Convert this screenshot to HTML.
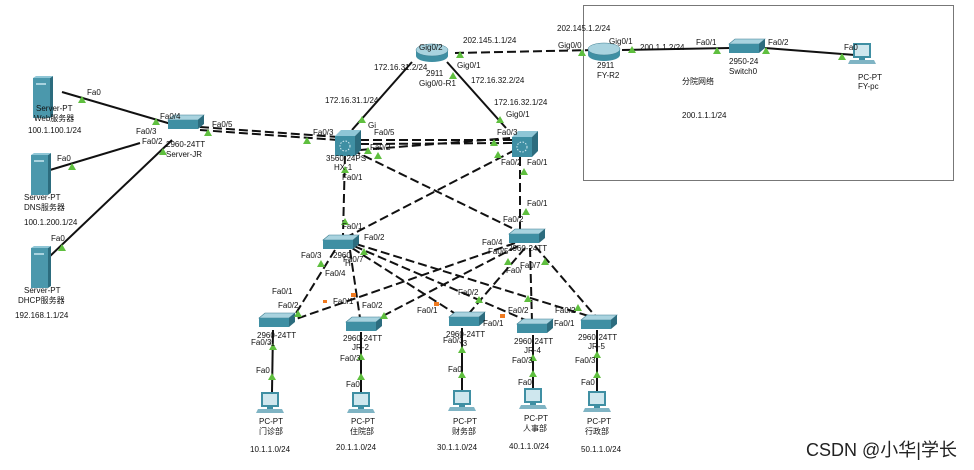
<!DOCTYPE html>
<html><head><meta charset="utf-8"><style>
html,body{margin:0;padding:0;background:#fff;width:974px;height:470px;overflow:hidden}
svg{display:block}
text{font-family:"Liberation Sans","Noto Sans CJK SC",sans-serif;font-size:8px;fill:#111}
</style></head><body>
<svg width="974" height="470" viewBox="0 0 974 470">
<defs>
<g id="sw"><polygon points="-16,-4 -10,-9 20,-9 14,-4" fill="#a9d3df" stroke="#3f7f91" stroke-width=".6"/><polygon points="-16,-4 14,-4 14,5 -16,5" fill="#3f8fa3"/><polygon points="14,-4 20,-9 20,0 14,5" fill="#2c6c7e"/></g>
<g id="ml"><polygon points="-12,-8 -6,-14 14,-14 8,-8" fill="#8fc6d6"/><rect x="-12" y="-8" width="20" height="20" fill="#3f8fa3"/><polygon points="8,-8 14,-14 14,6 8,12" fill="#2c6c7e"/><circle cx="-2" cy="2" r="5" fill="none" stroke="#d8eef4" stroke-width="1" stroke-dasharray="1.5 1.5"/></g>
<g id="rt"><ellipse cx="0" cy="4" rx="16" ry="6" fill="#3f8fa3"/><rect x="-16" y="-2" width="32" height="6" fill="#3f8fa3"/><ellipse cx="0" cy="-2" rx="16" ry="6" fill="#a9d3df" stroke="#3f7f91" stroke-width=".5"/></g>
<g id="pc"><rect x="-9" y="-12" width="18" height="15" fill="#3f8fa3"/><rect x="-7" y="-10" width="14" height="11" fill="#cfe7ee"/><polygon points="-12,5 12,5 14,9 -14,9" fill="#7fb4c4"/><rect x="-3" y="3" width="6" height="2" fill="#3f8fa3"/></g>
<g id="sv"><rect x="-9" y="-20" width="17" height="40" fill="#4b98ac"/><polygon points="8,-20 11,-22 11,18 8,20" fill="#2c6c7e"/><polygon points="-9,-20 -6,-22 11,-22 8,-20" fill="#8fc6d6"/><rect x="-6" y="-15" width="10" height="2" fill="#a9d3df"/></g>
<g id="tri"><polygon points="-4,3 4,3 0,-4" fill="#5fbf3f"/></g>
</defs>

<rect x="583.5" y="5.5" width="370" height="175" fill="none" stroke="#777" stroke-width="1"/>

<g stroke="#111" stroke-width="2" fill="none">
<line x1="62" y1="92" x2="178" y2="126"/>
<line x1="50" y1="170" x2="140" y2="143"/>
<line x1="48" y1="258" x2="172" y2="140"/>
<line x1="352" y1="130" x2="412" y2="62"/>
<line x1="447" y1="62" x2="506" y2="128"/>
<line x1="622" y1="50" x2="730" y2="48"/>
<line x1="765" y1="48" x2="855" y2="55"/>
<line x1="273" y1="330" x2="272" y2="392"/>
<line x1="361" y1="332" x2="361" y2="392"/>
<line x1="462" y1="328" x2="462" y2="392"/>
<line x1="533" y1="335" x2="533" y2="390"/>
<line x1="597" y1="330" x2="597" y2="392"/>
</g>
<g stroke="#111" stroke-width="2" fill="none" stroke-dasharray="9 4">
<line x1="200" y1="127" x2="338" y2="137"/>
<line x1="200" y1="130" x2="338" y2="140"/>
<line x1="455" y1="53" x2="595" y2="50"/>
<line x1="360" y1="140" x2="515" y2="140"/>
<line x1="360" y1="144" x2="515" y2="143"/>
<line x1="360" y1="150" x2="510" y2="138"/>
<line x1="345" y1="155" x2="343" y2="235"/>
<line x1="520" y1="157" x2="520" y2="230"/>
<line x1="352" y1="150" x2="520" y2="232"/>
<line x1="515" y1="150" x2="345" y2="238"/>
<line x1="335" y1="250" x2="293" y2="318"/>
<line x1="350" y1="250" x2="360" y2="318"/>
<line x1="352" y1="248" x2="462" y2="318"/>
<line x1="354" y1="246" x2="530" y2="322"/>
<line x1="356" y1="244" x2="595" y2="318"/>
<line x1="515" y1="243" x2="293" y2="320"/>
<line x1="518" y1="246" x2="375" y2="320"/>
<line x1="525" y1="248" x2="465" y2="318"/>
<line x1="530" y1="248" x2="532" y2="322"/>
<line x1="535" y1="246" x2="597" y2="318"/>
</g>

<use href="#sv" x="42" y="98"/>
<use href="#sv" x="40" y="175"/>
<use href="#sv" x="40" y="268"/>
<use href="#sw" x="184" y="124"/>
<use href="#ml" x="347" y="144"/>
<use href="#ml" x="524" y="145"/>
<use href="#rt" x="432" y="52"/>
<use href="#rt" x="604" y="51"/>
<use href="#sw" x="745" y="48"/>
<use href="#pc" x="862" y="55"/>
<use href="#sw" x="339" y="244"/>
<use href="#sw" x="525" y="238"/>
<use href="#sw" x="275" y="322"/>
<use href="#sw" x="362" y="326"/>
<use href="#sw" x="465" y="321"/>
<use href="#sw" x="533" y="328"/>
<use href="#sw" x="597" y="324"/>
<use href="#pc" x="270" y="404"/>
<use href="#pc" x="361" y="404"/>
<use href="#pc" x="462" y="402"/>
<use href="#pc" x="533" y="400"/>
<use href="#pc" x="597" y="403"/>

<g>
<use href="#tri" x="82" y="100"/><use href="#tri" x="156" y="122"/><use href="#tri" x="72" y="167"/><use href="#tri" x="163" y="152"/><use href="#tri" x="62" y="248"/>
<use href="#tri" x="208" y="133"/><use href="#tri" x="307" y="141"/>
<use href="#tri" x="362" y="120"/><use href="#tri" x="453" y="76"/><use href="#tri" x="500" y="120"/>
<use href="#tri" x="460" y="55"/><use href="#tri" x="582" y="53"/>
<use href="#tri" x="632" y="50"/><use href="#tri" x="717" y="51"/><use href="#tri" x="766" y="51"/><use href="#tri" x="842" y="57"/>
<use href="#tri" x="368" y="151"/><use href="#tri" x="378" y="156"/><use href="#tri" x="494" y="143"/><use href="#tri" x="498" y="155"/>
<use href="#tri" x="345" y="170"/><use href="#tri" x="345" y="222"/><use href="#tri" x="524" y="172"/><use href="#tri" x="526" y="212"/>
<use href="#tri" x="321" y="264"/><use href="#tri" x="298" y="314"/><use href="#tri" x="364" y="252"/><use href="#tri" x="384" y="316"/>
<use href="#tri" x="508" y="262"/><use href="#tri" x="545" y="262"/><use href="#tri" x="479" y="300"/><use href="#tri" x="528" y="299"/><use href="#tri" x="578" y="308"/>
<use href="#tri" x="273" y="347"/><use href="#tri" x="272" y="377"/><use href="#tri" x="361" y="357"/><use href="#tri" x="361" y="377"/>
<use href="#tri" x="462" y="350"/><use href="#tri" x="462" y="375"/><use href="#tri" x="533" y="358"/><use href="#tri" x="533" y="374"/><use href="#tri" x="597" y="355"/><use href="#tri" x="597" y="375"/>
</g>
<g fill="#f07a20"><rect x="351" y="293" width="5" height="4"/><rect x="434" y="302" width="5" height="4"/><rect x="500" y="314" width="5" height="4"/><rect x="323" y="300" width="4" height="3"/></g>

<g>
<text x="36" y="111">Server-PT</text><text x="34" y="121">Web服务器</text><text x="28" y="133">100.1.100.1/24</text>
<text x="24" y="200">Server-PT</text><text x="24" y="210">DNS服务器</text><text x="24" y="225">100.1.200.1/24</text>
<text x="24" y="293">Server-PT</text><text x="18" y="303">DHCP服务器</text><text x="15" y="318">192.168.1.1/24</text>
<text x="87" y="95">Fa0</text><text x="57" y="161">Fa0</text><text x="51" y="241">Fa0</text>
<text x="160" y="119">Fa0/4</text><text x="136" y="134">Fa0/3</text><text x="142" y="144">Fa0/2</text>
<text x="166" y="147">2960-24TT</text><text x="166" y="157">Server-JR</text>
<text x="212" y="127">Fa0/5</text><text x="313" y="135">Fa0/3</text>
<text x="326" y="161">3560-24PS</text><text x="334" y="170">HX-1</text>
<text x="342" y="180">Fa0/1</text><text x="368" y="128">Gi</text><text x="374" y="135">Fa0/5</text><text x="370" y="150">Fa0/2</text>
<text x="325" y="103">172.16.31.1/24</text><text x="374" y="70">172.16.31.2/24</text>
<text x="419" y="50">Gig0/2</text><text x="419" y="86">Gig0/0</text><text x="426" y="76">2911</text><text x="443" y="86">-R1</text>
<text x="457" y="68">Gig0/1</text><text x="471" y="83">172.16.32.2/24</text>
<text x="463" y="43">202.145.1.1/24</text>
<text x="494" y="105">172.16.32.1/24</text><text x="506" y="117">Gig0/1</text>
<text x="497" y="135">Fa0/3</text><text x="501" y="165">Fa0/2</text><text x="527" y="165">Fa0/1</text>
<text x="527" y="206">Fa0/1</text><text x="503" y="222">Fa0/2</text>
<text x="557" y="31">202.145.1.2/24</text><text x="558" y="48">Gig0/0</text>
<text x="609" y="44">Gig0/1</text><text x="640" y="50">200.1.1.2/24</text>
<text x="597" y="68">2911</text><text x="597" y="78">FY-R2</text>
<text x="696" y="45">Fa0/1</text><text x="768" y="45">Fa0/2</text>
<text x="729" y="64">2950-24</text><text x="729" y="74">Switch0</text>
<text x="682" y="84">分院网络</text><text x="682" y="118">200.1.1.1/24</text>
<text x="844" y="50">Fa0</text><text x="858" y="80">PC-PT</text><text x="858" y="89">FY-pc</text>
<text x="342" y="229">Fa0/1</text><text x="364" y="240">Fa0/2</text><text x="301" y="258">Fa0/3</text><text x="333" y="258">2960</text><text x="345" y="266">H.</text>
<text x="343" y="262">Fa0/7</text><text x="325" y="276">Fa0/4</text>
<text x="482" y="245">Fa0/4</text><text x="488" y="254">Fa0/5</text><text x="508" y="251">2960-24TT</text>
<text x="506" y="273">Fa0/</text><text x="520" y="268">Fa0/7</text>
<text x="272" y="294">Fa0/1</text><text x="278" y="308">Fa0/2</text>
<text x="333" y="304">Fa0/1</text><text x="362" y="308">Fa0/2</text>
<text x="417" y="313">Fa0/1</text><text x="458" y="295">Fa0/2</text>
<text x="483" y="326">Fa0/1</text><text x="508" y="313">Fa0/2</text>
<text x="554" y="326">Fa0/1</text><text x="555" y="313">Fa0/2</text>
<text x="257" y="338">2960-24TT</text><text x="268" y="346">-1</text>
<text x="343" y="341">2960-24TT</text><text x="352" y="350">JR-2</text>
<text x="446" y="337">2960-24TT</text><text x="460" y="346">-3</text>
<text x="514" y="344">2960-24TT</text><text x="524" y="353">JR-4</text>
<text x="578" y="340">2960-24TT</text><text x="588" y="349">JR-5</text>
<text x="251" y="345">Fa0/3</text><text x="340" y="361">Fa0/3</text><text x="443" y="343">Fa0/3</text><text x="512" y="363">Fa0/3</text><text x="575" y="363">Fa0/3</text>
<text x="256" y="373">Fa0</text><text x="346" y="387">Fa0</text><text x="448" y="372">Fa0</text><text x="518" y="385">Fa0</text><text x="581" y="385">Fa0</text>
<text x="259" y="424">PC-PT</text><text x="259" y="434">门诊部</text><text x="250" y="452">10.1.1.0/24</text>
<text x="351" y="424">PC-PT</text><text x="350" y="434">住院部</text><text x="336" y="450">20.1.1.0/24</text>
<text x="453" y="424">PC-PT</text><text x="452" y="434">财务部</text><text x="437" y="450">30.1.1.0/24</text>
<text x="524" y="421">PC-PT</text><text x="523" y="431">人事部</text><text x="509" y="449">40.1.1.0/24</text>
<text x="587" y="424">PC-PT</text><text x="585" y="434">行政部</text><text x="581" y="452">50.1.1.0/24</text>
</g>
<text x="806" y="456" style="font-size:18px;fill:#222">CSDN @小华|学长</text>
</svg>
</body></html>
